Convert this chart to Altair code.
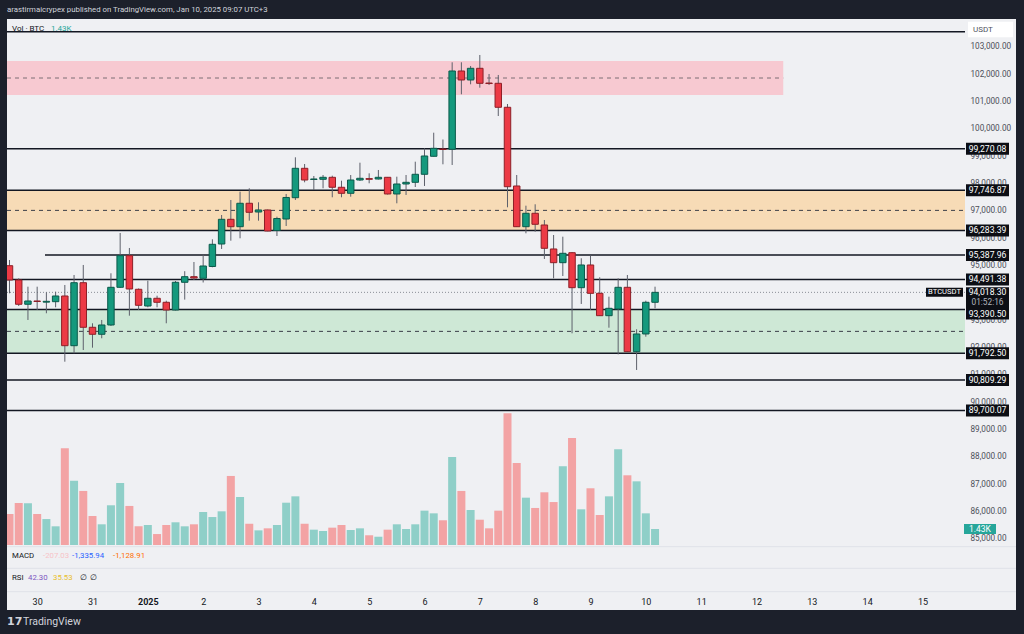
import altair as alt
import pandas as pd

# ---------------- data ----------------
# 4h BTCUSDT candles, index 0..70
opens = [94993, 94470, 93582, 93702, 93660, 93677, 93885, 92068, 94371, 92741,
         92485, 92825, 94203, 95359, 94130, 93519, 93801, 93655, 93373, 94386,
         94591, 94532, 94964, 95786, 96689, 96419, 97275, 96956, 97030, 96280,
         96700, 97479, 98554, 98145, 98152, 98225, 97860, 97640, 98126, 98177,
         98163, 98225, 97615, 97980, 98042, 98335, 98993, 99260, 99249, 102112,
         101783, 102210, 101672, 101662, 100785, 97907, 96419, 96909, 96481, 95604,
         95103, 95468, 94189, 95019, 93983, 93165, 93410, 94203, 91849, 92496,
         93655]
highs = [95201, 94532, 94225, 94225, 94020, 94042, 94287, 94653, 95019, 92887,
         93008, 94715, 96189, 95640, 94160, 94445, 93896, 93713, 94433, 94792,
         95128, 95395, 95958, 96847, 97395, 97699, 97823, 97311, 97050, 96785,
         97615, 98956, 98711, 98273, 98309, 98284, 98101, 98309, 98759, 98371,
         98492, 98236, 98247, 98309, 98796, 99285, 99856, 99607, 102430, 102430,
         102295, 102697, 102002, 101966, 100905, 98309, 97187, 97238, 96664, 96115,
         96053, 95494, 95264, 95359, 94569, 93860, 94532, 94653, 92668, 93713,
         94225]
lows = [93984, 93519, 93008, 93373, 93253, 93472, 91483, 91790, 91910, 91995,
        92339, 92788, 94180, 93165, 93373, 93472, 93472, 92887, 93355, 93753,
        94470, 94379, 94934, 95604, 95907, 95995, 96638, 96638, 96250, 96079,
        96444, 97395, 98042, 97761, 97823, 97494, 97494, 97516, 98090, 98006,
        98145, 97596, 97274, 97578, 97870, 97907, 98986, 98700, 98675, 101260,
        101625, 101501, 101600, 100466, 97128, 96408, 96178, 96236, 95238, 94532,
        94616, 92521, 93593, 93373, 93154, 92726, 91750, 91838, 91180, 92397,
        93435]
closes = [94470, 93582, 93702, 93684, 93690, 93885, 92068, 94371, 92741, 92485,
          92825, 94203, 95359, 94141, 93545, 93801, 93655, 93373, 94386, 94591,
          94543, 94982, 95775, 96689, 96419, 97275, 96945, 97030, 96262, 96719,
          97487, 98554, 98126, 98163, 98225, 97860, 97640, 98126, 98189, 98152,
          98225, 97615, 97980, 98042, 98335, 99004, 99285, 99242, 102112, 101783,
          102210, 101662, 101654, 100785, 97881, 96419, 96909, 96507, 95629, 95103,
          95446, 94189, 95019, 93983, 93165, 93435, 94203, 91849, 92496, 93655,
          94018.30]
volumes = [2.77, 3.75, 3.73, 2.77, 2.32, 1.67, 8.64, 5.75, 4.83, 2.59,
           1.85, 3.55, 5.54, 3.49, 1.67, 1.79, 0.98, 1.79, 2.03, 1.67,
           1.85, 2.95, 2.50, 3.01, 6.17, 4.29, 1.90, 1.31, 1.49, 1.79,
           3.78, 4.35, 1.90, 1.37, 1.25, 1.55, 1.79, 1.34, 1.49, 0.87,
           0.74, 1.37, 1.85, 1.43, 1.85, 3.07, 2.83, 2.21, 7.87, 4.83,
           3.13, 2.26, 1.49, 3.07, 11.77, 7.33, 4.23, 3.31, 4.71, 3.84,
           7.04, 9.57, 3.19, 5.07, 2.68, 4.35, 8.56, 6.23, 5.69, 2.83,
           1.43]  # thousand BTC

day_labels = ["30", "31", "2025", "2", "3", "4", "5", "6", "7", "8",
              "9", "10", "11", "12", "13", "14", "15"]
day_ticks = [3 + 6 * i for i in range(len(day_labels))]

level_prices = [103548, 99270.08, 97746.87, 96283.39, 95387.96, 94491.38,
                93390.50, 91792.50, 90809.29, 89700.07]
level_starts = [None, None, None, None, 3.85, None, None, None, None, None]
label_prices = [99270.08, 97746.87, 96283.39, 95387.96, 94491.38,
                91792.50, 90809.29, 89700.07]
shifted_label_price = 93390.50
last_price = 94018.30
countdown = "01:52:16"

zone_lo = [101234, 96283.39, 91792.50]
zone_hi = [102477, 97746.87, 93390.50]
zone_end = [83.9, None, None]
zone_fill = ["#f7c9d1", "#f7dbb6", "#cee8d6"]
zone_dash = ["#7d6e74", "#3b3e48", "#3b3e48"]

axis_prices = list(range(85000, 104000, 1000))

# ---------------- layout ----------------
W, H = 958, 571
X_MIN, X_MAX = -0.271, 103.61
P_MIN, P_MAX = 83135, 104013
V_MIN, V_MAX = -4.021, 47.006
FONT = "Roboto"
DARK = "#1c202b"
LIGHT = "#eff0f3"
UP, DN = "#14997d", "#ec3a45"
UP_S, DN_S = "#0b5a4b", "#8e1f27"
VUP, VDN = "#8fcfc8", "#f3a3a4"
WICK = "#5d606b"
INK = "#131722"

xs = alt.Scale(domain=[X_MIN, X_MAX], nice=False, zero=False)
ps = alt.Scale(domain=[P_MIN, P_MAX], nice=False, zero=False)
vs = alt.Scale(domain=[V_MIN, V_MAX], nice=False, zero=False)

label_expr = "[" + ",".join(f"'{d}'" for d in day_labels) + "][round((datum.value - 3) / 6)]"
X_AX = alt.Axis(
    values=day_ticks, labelExpr=label_expr, ticks=False, domain=False, grid=False,
    labelFontSize=9, labelColor=INK, labelFont=FONT, labelPadding=11,
    labelBaseline="middle", labelOverlap=False, labelFlush=False, title=None,
    labelFontWeight={"condition": {"test": "datum.value == 15", "value": "bold"},
                     "value": "normal"})
Y_AX = alt.Axis(
    orient="right", values=axis_prices, format=",.2f", ticks=False, domain=False,
    grid=False, labelAlign="left", labelPadding=5, labelFontSize=8.2,
    labelColor="#4c4f59", labelFont=FONT, labelOverlap=False, labelFlush=False,
    title=None, zindex=0)


def X(f):
    return alt.X(f, scale=xs, axis=X_AX)


def Y(f):
    return alt.Y(f, scale=ps, axis=Y_AX)


one = pd.DataFrame({"o": [0]})

candles = pd.DataFrame({"k": list(range(len(opens))), "open": opens, "high": highs,
                        "low": lows, "close": closes, "volume": volumes})
candles["bx0"] = candles.k - 0.35
candles["bx1"] = candles.k + 0.35
candles["vx0"] = candles.k - 0.434
candles["vx1"] = candles.k + 0.434
candles["zero"] = 0.0
is_up = "datum.close >= datum.open"


def txt(s, x, y, color, size=8.0, weight="normal", align="left", font=FONT):
    return alt.Chart(one).mark_text(text=s, align=align, baseline="middle", fontSize=size,
                                    fontWeight=weight, color=color, font=font).encode(
        x=alt.value(x), y=alt.value(y))


def box(x0, x1, y0, y1, color):
    return alt.Chart(one).mark_rect(color=color).encode(
        x=alt.value(x0), x2=alt.value(x1), y=alt.value(y0), y2=alt.value(y1))


def hline(y, color):
    return alt.Chart(one).mark_rule(color=color, strokeWidth=1).encode(
        x=alt.value(0), x2=alt.value(1009), y=alt.value(y))


# ---------------- price group ----------------
zones = pd.DataFrame({"x0": [X_MIN] * 3,
                      "x1": [e if e is not None else X_MAX for e in zone_end],
                      "lo": zone_lo, "hi": zone_hi, "fill": zone_fill, "dash": zone_dash})
zones["mid"] = (zones.lo + zones.hi) / 2
zone_rect = alt.Chart(zones).mark_rect().encode(
    x=X("x0:Q"), x2="x1:Q", y=Y("lo:Q"), y2="hi:Q",
    color=alt.Color("fill:N", scale=None))
zone_mid = alt.Chart(zones).mark_rule(strokeDash=[4, 4], strokeWidth=1).encode(
    x=X("x0:Q"), x2="x1:Q", y=Y("mid:Q"),
    color=alt.Color("dash:N", scale=None))

levels = pd.DataFrame({"p": level_prices,
                       "x0": [s if s is not None else X_MIN for s in level_starts],
                       "x1": [X_MAX] * len(level_prices)})
level_rules = alt.Chart(levels).mark_rule(color=INK, strokeWidth=1.5).encode(
    x=X("x0:Q"), x2="x1:Q", y=Y("p:Q"))

last_df = pd.DataFrame({"p": [last_price], "x0": [X_MIN], "x1": [X_MAX],
                        "t": [f"{last_price:,.2f}"], "c": [countdown], "s": ["BTCUSDT"]})
last_rule = alt.Chart(last_df).mark_rule(color="#8a8d96", strokeDash=[1, 2], strokeWidth=1).encode(
    x=X("x0:Q"), x2="x1:Q", y=Y("p:Q"))

wicks = alt.Chart(candles).mark_rule(color=WICK, strokeWidth=1, clip=True).encode(
    x=X("k:Q"), y=Y("low:Q"), y2="high:Q")

bodies = alt.Chart(candles).mark_rect(strokeWidth=1, clip=True).encode(
    x=X("bx0:Q"), x2="bx1:Q", y=Y("open:Q"), y2="close:Q",
    color=alt.condition(is_up, alt.value(UP), alt.value(DN)),
    stroke=alt.condition(is_up, alt.value(UP_S), alt.value(DN_S)))

labs = pd.DataFrame({"p": label_prices, "t": [f"{p:,.2f}" for p in label_prices]})
lab_box = alt.Chart(labs).mark_rect(color="#0c0e14", yOffset=-6, y2Offset=6).encode(
    x=alt.value(W + 1), x2=alt.value(W + 44), y=Y("p:Q"), y2="p:Q")
lab_txt = alt.Chart(labs).mark_text(color="white", fontSize=8.6, font=FONT,
                                    align="center", baseline="middle").encode(
    x=alt.value(W + 22.5), y=Y("p:Q"), text="t:N")

sh = pd.DataFrame({"p": [shifted_label_price], "t": [f"{shifted_label_price:,.2f}"]})
sh_box = alt.Chart(sh).mark_rect(color="#0c0e14", yOffset=-1.5, y2Offset=10).encode(
    x=alt.value(W + 1), x2=alt.value(W + 44), y=Y("p:Q"), y2="p:Q")
sh_txt = alt.Chart(sh).mark_text(color="white", fontSize=8.6, font=FONT, dy=4.3,
                                 align="center", baseline="middle").encode(
    x=alt.value(W + 22.5), y=Y("p:Q"), text="t:N")

last_box = alt.Chart(last_df).mark_rect(color="#0c0e14", yOffset=-5, y2Offset=17).encode(
    x=alt.value(W + 1), x2=alt.value(W + 44), y=Y("p:Q"), y2="p:Q")
last_txt = alt.Chart(last_df).mark_text(color="white", fontSize=8.6, font=FONT, dy=-0.6,
                                        align="center", baseline="middle").encode(
    x=alt.value(W + 22.5), y=Y("p:Q"), text="t:N")
last_cd = alt.Chart(last_df).mark_text(color="#b2b5be", fontSize=8.3, font=FONT, dy=10.4,
                                       align="center", baseline="middle").encode(
    x=alt.value(W + 22.5), y=Y("p:Q"), text="c:N")
sym_box = alt.Chart(last_df).mark_rect(color="#0c0e14", yOffset=-4.5, y2Offset=4.5).encode(
    x=alt.value(W - 39), x2=alt.value(W - 2), y=Y("p:Q"), y2="p:Q")
sym_txt = alt.Chart(last_df).mark_text(color="white", fontSize=7.6, font=FONT,
                                       align="center", baseline="middle").encode(
    x=alt.value(W - 20.5), y=Y("p:Q"), text="s:N")

price_group = alt.layer(zone_rect, zone_mid, level_rules, last_rule, wicks, bodies,
                        lab_box, lab_txt, sh_box, sh_txt, last_box, last_txt, last_cd,
                        sym_box, sym_txt)

# ---------------- volume group ----------------
vol_bars = alt.Chart(candles).mark_rect(clip=True).encode(
    x=X("vx0:Q"), x2="vx1:Q",
    y=alt.Y("volume:Q", scale=vs, axis=None), y2="zero:Q",
    color=alt.condition(is_up, alt.value(VUP), alt.value(VDN)))
vol_last = pd.DataFrame({"v": [volumes[-1]], "t": [f"{volumes[-1]:.2f}K"]})
vol_box = alt.Chart(vol_last).mark_rect(color="#26a69a", yOffset=-5, y2Offset=5).encode(
    x=alt.value(W - 1), x2=alt.value(W + 31),
    y=alt.Y("v:Q", scale=vs, axis=None), y2="v:Q")
vol_txt = alt.Chart(vol_last).mark_text(color="white", fontSize=8.5, font=FONT,
                                        align="center", baseline="middle").encode(
    x=alt.value(W + 15), y=alt.Y("v:Q", scale=vs, axis=None), text="t:N")
vol_group = alt.layer(vol_bars, vol_box, vol_txt)

# ---------------- frame, panes, texts ----------------
frame = [
    box(-7, 1017, -19, 0, DARK),
    box(-7, 0, -19, 615, DARK),
    box(1009, 1017, -19, 615, DARK),
    box(-7, 1017, 591, 615, DARK),
]
seps = [hline(527.7, "#dfe2e8"), hline(549.3, "#dfe2e8"), hline(572.7, "#dfe2e8")]
usdt = [box(W + 3, W + 48, 2.7, 18.3, "#ffffff"), txt("USDT", W + 8, 10.5, "#50535e", 8)]

texts = [
    txt("arastirmaicrypex published on TradingView.com, Jan 10, 2025 09:07 UTC+3",
        0, -9, "#d1d4dc", 7.8),
    txt("Vol · BTC", 5, 9.5, INK, 8),
    txt(f"{volumes[-1]:.2f}K", 44, 9.5, "#26a69a", 8),
    txt("MACD", 5, 537, INK, 7.8),
    txt("-207.03", 36, 537, "#f7c3c7", 7.8),
    txt("-1,335.94", 65, 537, "#2962ff", 7.8),
    txt("-1,128.91", 106, 537, "#ff6d00", 7.8),
    txt("RSI", 5, 559, INK, 7.8),
    txt("42.30", 21, 559, "#7e57c2", 7.8),
    txt("35.53", 46, 559, "#e9bf2c", 7.8),
    txt("∅", 73, 559, INK, 7.8),
    txt("∅", 83, 559, INK, 7.8),
    txt("17", 0, 602.7, "#d1d4dc", 11, "bold", font="DejaVu Sans"),
    txt("TradingView", 16, 602.7, "#d1d4dc", 10.5),
]

chart = alt.layer(
    vol_group, price_group, *frame, *seps, *usdt, *texts
).resolve_scale(y="independent").properties(
    width=W, height=H,
    padding={"left": 7, "top": 19, "right": 59, "bottom": 44},
    autosize=alt.AutoSizeParams(type="none"),
    background=LIGHT,
).configure_view(stroke=None)

chart.save("out.html", embed_options={"renderer": "svg", "actions": False})
